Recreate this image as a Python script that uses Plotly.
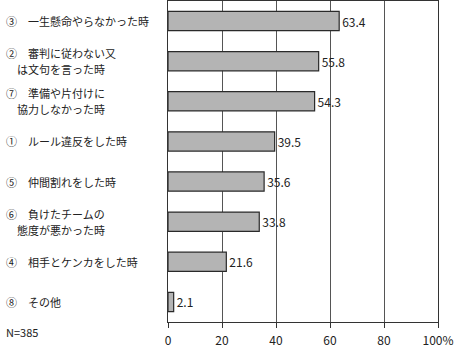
import plotly.graph_objects as go

categories = [
    "③　一生懸命やらなかった時",
    "②　審判に従わない又\n　は文句を言った時",
    "⑦　準備や片付けに\n　協力しなかった時",
    "①　ルール違反をした時",
    "⑤　仲間割れをした時",
    "⑥　負けたチームの\n　態度が悪かった時",
    "④　相手とケンカをした時",
    "⑧　その他",
]
values = [63.4, 55.8, 54.3, 39.5, 35.6, 33.8, 21.6, 2.1]
tick_vals = [0, 20, 40, 60, 80, 100]
tick_text = ["0", "20", "40", "60", "80", "100%"]
note = "N=385"

FONT = "Noto Sans CJK JP"
W, H = 454, 353
L, R, T, B = 168, 16, 1, 31
pw = W - L - R

fig = go.Figure()
fig.add_trace(go.Bar(
    x=values,
    y=list(range(len(categories))),
    orientation="h",
    width=0.48,
    marker=dict(color="#b4b4b4", line=dict(color="#2a2a2a", width=1.2)),
    text=[f"{v:.1f}" for v in values],
    textposition="outside",
    cliponaxis=False,
    textfont=dict(family=FONT, size=12, color="#222"),
))

for i, c in enumerate(categories):
    lines = c.split("\n")
    n = len(lines)
    for j, ln in enumerate(lines):
        shift = (n - 1) * 8 - j * 16
        fig.add_annotation(
            xref="paper", yref="y", x=(4 - L) / pw, y=i, yshift=shift,
            text=ln, showarrow=False, xanchor="left", yanchor="middle",
            align="left", font=dict(family=FONT, size=11, color="#222"),
        )
fig.add_annotation(
    xref="paper", yref="paper", x=(4 - L) / pw, y=-0.03,
    text=note, showarrow=False, xanchor="left", yanchor="middle",
    font=dict(family=FONT, size=11, color="#222"),
)

fig.update_layout(
    width=W, height=H,
    margin=dict(l=L, r=R, t=T, b=B),
    plot_bgcolor="white", paper_bgcolor="white",
    showlegend=False,
    xaxis=dict(
        range=[0, 100], tickvals=tick_vals, ticktext=tick_text,
        showgrid=True, gridcolor="#555", gridwidth=1,
        showline=True, linecolor="#333", linewidth=1, mirror=True,
        ticks="outside", ticklen=5, tickcolor="#333",
        ticklabelstandoff=3,
        tickfont=dict(family=FONT, size=12, color="#222"),
        zeroline=False, fixedrange=True,
    ),
    yaxis=dict(
        range=[len(categories) - 0.5, -0.5],
        showticklabels=False, showgrid=False,
        showline=True, linecolor="#333", linewidth=1, mirror=True,
        zeroline=False, fixedrange=True,
    ),
)

fig.write_html("out.html")
